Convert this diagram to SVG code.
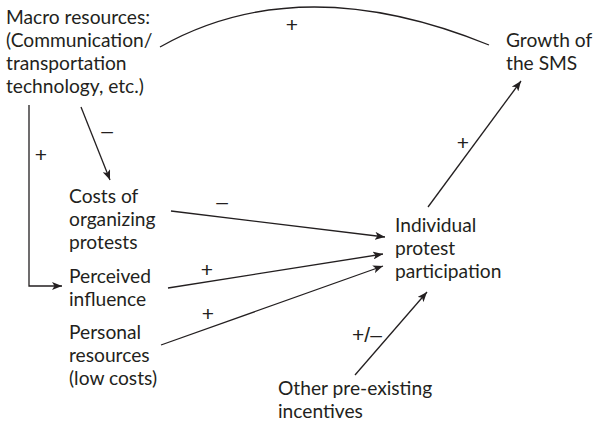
<svg xmlns="http://www.w3.org/2000/svg" width="599" height="422" viewBox="0 0 599 422">
  <style>
    text { font-family: Lato, "Open Sans", sans-serif; font-size: 19.2px; fill: #231f20; }
    .sign { font-family: "Liberation Sans", Arial, sans-serif; font-size: 21px; }
    .edge { fill: none; stroke: #231f20; stroke-width: 1.3; }
  </style>
  <defs>
    <marker id="arrow" viewBox="0 0 10 8" refX="10" refY="4" markerWidth="10" markerHeight="8" markerUnits="userSpaceOnUse" orient="auto">
      <path d="M0,0 L10,4 L0,8 L2.5,4 Z" fill="#231f20"/>
    </marker>
  </defs>
  <rect width="599" height="422" fill="#ffffff"/>

  <g id="connectors">
    <!-- macro resources to growth of the SMS -->
    <path class="edge" d="M160,47 Q300,-32 489,45"/>
    <!-- macro resources to perceived influence -->
    <path class="edge" d="M29,105 V286 H62" marker-end="url(#arrow)"/>
    <!-- macro resources to costs of organizing -->
    <path class="edge" d="M81,107 L110,180" marker-end="url(#arrow)"/>
    <!-- inputs to individual participation -->
    <path class="edge" d="M171,211 L385,237" marker-end="url(#arrow)"/>
    <path class="edge" d="M168,288 L383,254" marker-end="url(#arrow)"/>
    <path class="edge" d="M161,345 L383,266" marker-end="url(#arrow)"/>
    <path class="edge" d="M355,375 L427,292" marker-end="url(#arrow)"/>
    <!-- participation to growth -->
    <path class="edge" d="M428,207 L521,81" marker-end="url(#arrow)"/>

    <text class="sign" x="292" y="32" text-anchor="middle">+</text>
    <text class="sign" x="41" y="162" text-anchor="middle">+</text>
    <text class="sign" x="107" y="138" text-anchor="middle">–</text>
    <text class="sign" x="222" y="209" text-anchor="middle">–</text>
    <text class="sign" x="207" y="277" text-anchor="middle">+</text>
    <text class="sign" x="208" y="321" text-anchor="middle">+</text>
    <text class="sign" x="367" y="342" text-anchor="middle">+/–</text>
    <text class="sign" x="463" y="150" text-anchor="middle">+</text>
  </g>

  <g id="macro-resources">
    <text x="6" y="24">Macro resources:</text>
    <text x="6" y="47">(Communication/</text>
    <text x="6" y="70">transportation</text>
    <text x="6" y="93">technology, etc.)</text>
  </g>

  <g id="growth-sms">
    <text x="506" y="47">Growth of</text>
    <text x="506" y="70">the SMS</text>
  </g>

  <g id="costs">
    <text x="69" y="203">Costs of</text>
    <text x="69" y="226">organizing</text>
    <text x="69" y="249">protests</text>
  </g>

  <g id="perceived-influence">
    <text x="69" y="283">Perceived</text>
    <text x="69" y="306">influence</text>
  </g>

  <g id="personal-resources">
    <text x="69" y="339">Personal</text>
    <text x="69" y="362">resources</text>
    <text x="69" y="385">(low costs)</text>
  </g>

  <g id="individual-participation">
    <text x="395" y="232">Individual</text>
    <text x="395" y="255">protest</text>
    <text x="395" y="278">participation</text>
  </g>

  <g id="other-incentives">
    <text x="278" y="395">Other pre-existing</text>
    <text x="278" y="418">incentives</text>
  </g>
</svg>
